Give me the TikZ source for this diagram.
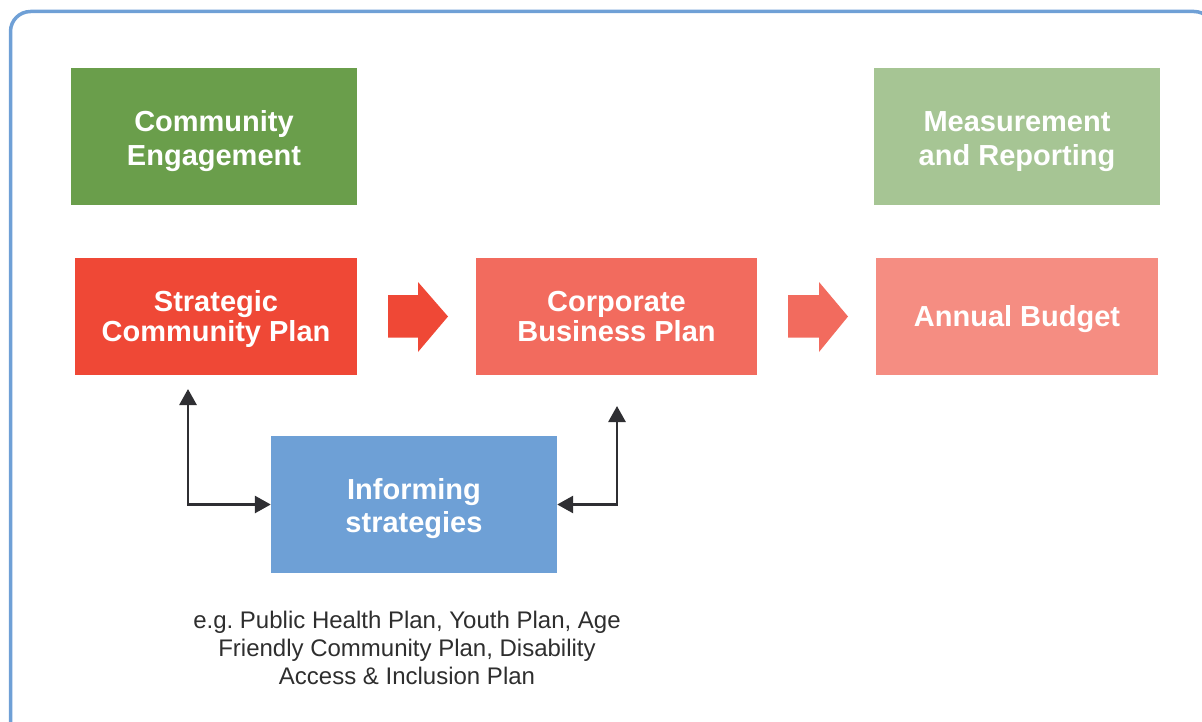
\documentclass[tikz,border=0pt]{standalone}
\usepackage{fontspec}
\setmainfont{Liberation Sans}
\usetikzlibrary{arrows.meta}
\frenchspacing
\definecolor{cegreen}{HTML}{6A9E4B}
\definecolor{mrgreen}{HTML}{A6C594}
\definecolor{redA}{HTML}{EF4836}
\definecolor{redB}{HTML}{F26B5E}
\definecolor{redC}{HTML}{F58D82}
\definecolor{blueA}{HTML}{6EA0D6}
\definecolor{frameblue}{HTML}{6FA0D6}
\definecolor{darkline}{HTML}{2F2F33}
\definecolor{captiongray}{HTML}{2E2E2E}
\begin{document}
\begin{tikzpicture}[x=1pt,y=-1pt,
  box/.style={draw=none, inner sep=0pt},
  boxtext/.style={inner sep=0pt, align=center, text=white,
    font=\fontsize{29}{34}\selectfont\bfseries},
  connector/.style={draw=darkline, line width=2.8pt,
    {Triangle[length=16pt,width=17pt]}-{Triangle[length=16pt,width=17pt]}},
  caption/.style={align=center, text=captiongray,
    font=\fontsize{24}{28}\selectfont}]
\useasboundingbox (0,0) rectangle (1202,722);
% frame
\draw[frameblue, line width=3.5pt, rounded corners=20pt] (10.5,11.5) rectangle (1214,745);
% top boxes
\node[box, fill=cegreen, minimum width=286pt, minimum height=137pt] (ce) at (214,136.5) {};
\node[boxtext] (cet) at ([yshift=-5pt]ce.center) {Community\\Engagement};
\node[box, fill=mrgreen, minimum width=286pt, minimum height=137pt] (mr) at (1017,136.5) {};
\node[boxtext] (mrt) at ([yshift=-5pt]mr.center) {Measurement\\and Reporting};
% middle row
\node[box, fill=redA, minimum width=282pt, minimum height=117pt] (scp) at (216,316.5) {};
\node[boxtext, font=\fontsize{29}{30}\selectfont\bfseries] (scpt) at ([yshift=-3pt]scp.center) {Strategic\\Community Plan};
\node[box, fill=redB, minimum width=281pt, minimum height=117pt] (cbp) at (616.5,316.5) {};
\node[boxtext, font=\fontsize{29}{30}\selectfont\bfseries] (cbpt) at (cbp.center) {Corporate\\Business Plan};
\node[box, fill=redC, minimum width=282pt, minimum height=117pt] (ab) at (1017,316.5) {};
\node[boxtext] (abt) at ([yshift=-3pt]ab.center) {Annual Budget};
% informing strategies
\node[box, fill=blueA, minimum width=286pt, minimum height=137pt] (is) at (414,504.5) {};
\node[boxtext, font=\fontsize{29}{33}\selectfont\bfseries] (ist) at ([yshift=-4.5pt]is.center) {Informing\\strategies};
\node[caption] (cap) at (407,648) {e.g. Public Health Plan, Youth Plan, Age\\Friendly Community Plan, Disability\\Access \& Inclusion Plan};
% block arrows
\fill[redA] (388,295) -- (418,295) -- (418,282) -- (448,316.5) -- (418,352) -- (418,337.5) -- (388,337.5) -- cycle;
\fill[redB] (788,295) -- (819,295) -- (819,282) -- (848,316.5) -- (819,352) -- (819,337.5) -- (788,337.5) -- cycle;
% connectors
\coordinate (lt) at (188,389);
\coordinate (rt) at (617,406);
\draw[connector] (lt) |- (is.west);
\draw[connector] (rt) |- (is.east);
\end{tikzpicture}
\end{document}
